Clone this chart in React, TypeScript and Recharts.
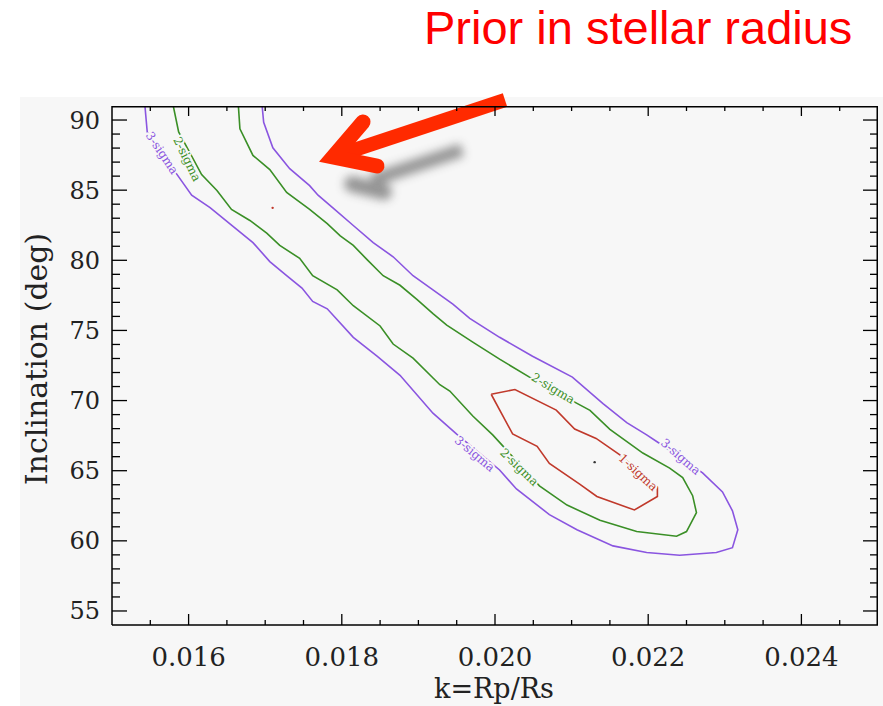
import React from "react";
import { ScatterChart, Scatter, XAxis, YAxis, ReferenceDot } from "recharts";

// k = Rp/Rs axis
const xTicks = [
  0.0155, 0.016, 0.0165, 0.017, 0.0175, 0.018, 0.0185, 0.019, 0.0195, 0.02,
  0.0205, 0.021, 0.0215, 0.022, 0.0225, 0.023, 0.0235, 0.024, 0.0245,
];
const xMajorTicks = [0.016, 0.018, 0.02, 0.022, 0.024];
const xTickLabels = ["0.016", "0.018", "0.020", "0.022", "0.024"];
const xDomain = [0.015, 0.025];

// inclination axis (deg)
const yTicks = [
  55, 56, 57, 58, 59, 60, 61, 62, 63, 64, 65, 66, 67, 68, 69, 70, 71, 72, 73,
  74, 75, 76, 77, 78, 79, 80, 81, 82, 83, 84, 85, 86, 87, 88, 89, 90,
];
const yMajorTicks = [55, 60, 65, 70, 75, 80, 85, 90];
const yDomain = [54, 91];

// contours, [k, inclination]
const sigma3 = [
  [0.01543, 91.0], [0.01546, 89.15], [0.01585, 86.11], [0.01604, 84.64],
  [0.01628, 83.76], [0.01658, 82.41], [0.01684, 81.26], [0.01706, 79.91],
  [0.01728, 78.9], [0.01748, 78.02], [0.01762, 77.07], [0.01781, 76.54],
  [0.01815, 74.51], [0.01846, 73.16], [0.01876, 71.8], [0.01919, 69.1],
  [0.0195, 67.61], [0.02006, 65.05], [0.02028, 63.7], [0.02071, 61.87],
  [0.02107, 60.79], [0.02154, 59.64], [0.02198, 59.17], [0.02241, 58.97],
  [0.02289, 59.17], [0.0231, 59.51], [0.02317, 60.79], [0.0231, 62.14],
  [0.02297, 63.49], [0.02271, 64.84], [0.02215, 66.94], [0.02198, 67.55],
  [0.02172, 68.43], [0.02141, 69.78], [0.02101, 71.67], [0.02049, 73.16],
  [0.02006, 74.51], [0.01967, 75.86], [0.01945, 76.87], [0.01919, 77.89],
  [0.01893, 78.9], [0.01867, 80.25], [0.01841, 81.26], [0.01815, 82.48],
  [0.01788, 83.76], [0.01769, 84.64], [0.01758, 85.32], [0.01732, 86.53],
  [0.0171, 88.02], [0.01698, 89.84], [0.01696, 91.0],
];

const sigma2 = [
  [0.0158, 91.0], [0.01587, 89.15], [0.01617, 86.11], [0.01637, 84.98],
  [0.01656, 83.63], [0.0168, 82.84], [0.01702, 81.94], [0.01719, 81.06],
  [0.01745, 80.14], [0.01762, 78.9], [0.01794, 77.89], [0.01815, 76.76],
  [0.0185, 75.32], [0.01867, 74.03], [0.01893, 73.02], [0.01928, 71.13],
  [0.01941, 70.68], [0.01971, 68.9], [0.01997, 67.55], [0.02058, 63.92],
  [0.02094, 62.55], [0.02137, 61.47], [0.02185, 60.66], [0.02237, 60.33],
  [0.0225, 60.66], [0.02263, 62.01], [0.02258, 63.22], [0.02245, 64.51],
  [0.02228, 65.18], [0.02193, 66.26], [0.0215, 67.95], [0.02124, 69.3],
  [0.02101, 69.98], [0.02045, 71.67], [0.02006, 72.95], [0.01971, 74.17],
  [0.01937, 75.38], [0.01919, 76.2], [0.01898, 77.21], [0.01876, 78.22],
  [0.01854, 78.9], [0.01833, 80.05], [0.01815, 81.06], [0.01798, 81.74],
  [0.01781, 82.61], [0.01758, 83.63], [0.01728, 84.84], [0.01706, 86.47],
  [0.01684, 87.48], [0.01667, 89.37], [0.01665, 91.0],
];

const sigma1 = [
  [0.01995, 70.45], [0.02026, 70.79], [0.0208, 69.32], [0.02104, 67.97],
  [0.02132, 67.3], [0.02163, 66.13], [0.02212, 63.83], [0.02212, 63.16],
  [0.02182, 62.2], [0.02133, 63.16], [0.02111, 64.03], [0.02071, 65.52],
  [0.02055, 66.74], [0.02023, 67.62], [0.01995, 70.45],
];

const contourLabels = [
  { text: "3-sigma", k: 0.015653, inc: 87.65, angle: 56, level: 3 },
  { text: "2-sigma", k: 0.01598, inc: 87.21, angle: 64, level: 2 },
  { text: "3-sigma", k: 0.019736, inc: 66.2, angle: 40, level: 3 },
  { text: "2-sigma", k: 0.020316, inc: 65.25, angle: 44, level: 2 },
  { text: "2-sigma", k: 0.02076, inc: 70.86, angle: 31, level: 2 },
  { text: "3-sigma", k: 0.022423, inc: 65.99, angle: 41, level: 3 },
  { text: "1-sigma", k: 0.021868, inc: 64.88, angle: 43, level: 1 },
];

const bestFit = [
  { k: 0.017097, inc: 83.74, level: 1 },
  { k: 0.021301, inc: 65.61, level: 0 },
];

const colors: Record<number, string> = {
  0: "#333333",
  1: "#c0392b",
  2: "#3a8f26",
  3: "#8a55e0",
};

const plotBg = "#f7f7f7";
const serif = "DejaVu Serif";

const toPts = (a: number[][]) => a.map(([x, y]) => ({ x, y }));
const majorIndex = (v: number, majors: number[]) =>
  majors.findIndex((m) => Math.abs(m - v) < 1e-9);

// stable data refs
const pts3 = toPts(sigma3);
const pts2 = toPts(sigma2);
const pts1 = toPts(sigma1);

// top/right side of the box and the points its inward ticks hang from
const frame = [
  { x: xDomain[0], y: yDomain[1] },
  { x: xDomain[1], y: yDomain[1] },
  { x: xDomain[1], y: yDomain[0] },
];
const topTickPts = xTicks.map((v) => ({ x: v, y: yDomain[1] }));
const rightTickPts = yTicks.map((v) => ({ x: xDomain[1], y: v }));

function BottomTick(props: any) {
  const { x, y, payload } = props;
  const i = majorIndex(payload.value, xMajorTicks);
  return (
    <g>
      <line x1={x} x2={x} y1={y} y2={y - (i >= 0 ? 11 : 5)} stroke="#000" strokeWidth={1.3} />
      {i >= 0 && (
        <text x={x} y={y + 41} textAnchor="middle" fontFamily={serif} fontSize={26} fill="#222">
          {xTickLabels[i]}
        </text>
      )}
    </g>
  );
}

function LeftTick(props: any) {
  const { x, y, payload } = props;
  const major = majorIndex(payload.value, yMajorTicks) >= 0;
  return (
    <g>
      <line x1={x} x2={x + (major ? 15 : 8)} y1={y} y2={y} stroke="#000" strokeWidth={1.3} />
      {major && (
        <text x={x - 12} y={y + 8.5} textAnchor="end" fontFamily={serif} fontSize={24} fill="#222">
          {payload.value}
        </text>
      )}
    </g>
  );
}

const TopTickShape = (p: any) => {
  const len = majorIndex(p.payload.x, xMajorTicks) >= 0 ? 10 : 5;
  return <line x1={p.cx} x2={p.cx} y1={p.cy} y2={p.cy + len} stroke="#000" strokeWidth={1.3} />;
};
const RightTickShape = (p: any) => {
  const len = majorIndex(p.payload.y, yMajorTicks) >= 0 ? 15 : 8;
  return <line x1={p.cx} x2={p.cx - len} y1={p.cy} y2={p.cy} stroke="#000" strokeWidth={1.3} />;
};

const labelShapes = contourLabels.map((l) => (p: any) => (
  <text
    x={p.cx}
    y={p.cy}
    transform={`rotate(${l.angle} ${p.cx} ${p.cy})`}
    textAnchor="middle"
    dominantBaseline="central"
    fontFamily={serif}
    fontSize={12}
    fill={colors[l.level]}
    stroke={plotBg}
    strokeWidth={4}
    paintOrder="stroke"
  >
    {l.text}
  </text>
));

const noDot = () => <g />;
const axisLine = { stroke: "#000", strokeWidth: 1.5 };
const frameLine = { stroke: "#000", strokeWidth: 3 };
const line3 = { stroke: colors[3], strokeWidth: 1.6 };
const line2 = { stroke: colors[2], strokeWidth: 1.6 };
const line1 = { stroke: colors[1], strokeWidth: 1.6 };
const chartMargin = { top: 106, right: 5, bottom: 1, left: 22 };

export default function App() {
  return (
    <div
      style={{
        position: "absolute",
        left: 0,
        top: 0,
        width: 883,
        height: 706,
        background: `linear-gradient(${plotBg}, ${plotBg}) 20px 97px / 863px 609px no-repeat, #fff`,
      }}
    >
      <svg width={883} height={706} style={{ position: "absolute", left: 0, top: 0, pointerEvents: "none" }}>
        <defs>
          <filter id="arrowShadow" x="-50%" y="-50%" width="200%" height="200%">
            <feGaussianBlur stdDeviation={5} />
          </filter>
        </defs>
        <text x={424} y={44} fontFamily="Liberation Sans, Arial, sans-serif" fontSize={47} fill="#ff0000">
          Prior in stellar radius
        </text>
        <text x={47} y={359} transform="rotate(-90 47 359)" textAnchor="middle" fontFamily={serif} fontSize={30} fill="#222">
          Inclination (deg)
        </text>
        <text x={494} y={698} textAnchor="middle" fontFamily={serif} fontSize={27} fill="#222">
          k=Rp/Rs
        </text>
        <g filter="url(#arrowShadow)" opacity={0.55}>
          <path d="M 462 150 L 372 180" stroke="#444" strokeWidth={13} fill="none" />
          <path d="M 352 184 L 384 192" stroke="#444" strokeWidth={16} strokeLinecap="round" fill="none" />
        </g>
        <path d="M 505 100 L 333 157" stroke="#ff2a00" strokeWidth={14} fill="none" />
        <path d="M 363 122 L 333 157 L 377 166" stroke="#ff2a00" strokeWidth={15} strokeLinejoin="miter" strokeLinecap="round" fill="none" />
      </svg>
      <ScatterChart width={883} height={706} margin={chartMargin}>
        <XAxis
          type="number"
          dataKey="x"
          domain={xDomain}
          allowDataOverflow
          ticks={xTicks}
          interval={0}
          height={80}
          tickSize={0}
          tickMargin={0}
          tickLine={false}
          axisLine={axisLine}
          tick={BottomTick}
        />
        <YAxis
          type="number"
          dataKey="y"
          domain={yDomain}
          allowDataOverflow
          ticks={yTicks}
          interval={0}
          width={90}
          tickSize={0}
          tickMargin={0}
          tickLine={false}
          axisLine={axisLine}
          tick={LeftTick}
        />
        <Scatter data={pts3} line={line3} shape={noDot} fill="none" isAnimationActive={false} />
        <Scatter data={pts2} line={line2} shape={noDot} fill="none" isAnimationActive={false} />
        <Scatter data={pts1} line={line1} shape={noDot} fill="none" isAnimationActive={false} />
        <Scatter data={frame} line={frameLine} shape={noDot} fill="none" isAnimationActive={false} />
        <Scatter data={topTickPts} shape={TopTickShape} fill="none" isAnimationActive={false} />
        <Scatter data={rightTickPts} shape={RightTickShape} fill="none" isAnimationActive={false} />
        {bestFit.map((b, i) => (
          <ReferenceDot key={"b" + i} x={b.k} y={b.inc} r={1.2} fill={colors[b.level]} stroke="none" />
        ))}
        {contourLabels.map((l, i) => (
          <ReferenceDot key={"l" + i} x={l.k} y={l.inc} r={0} shape={labelShapes[i]} />
        ))}
      </ScatterChart>
    </div>
  );
}
